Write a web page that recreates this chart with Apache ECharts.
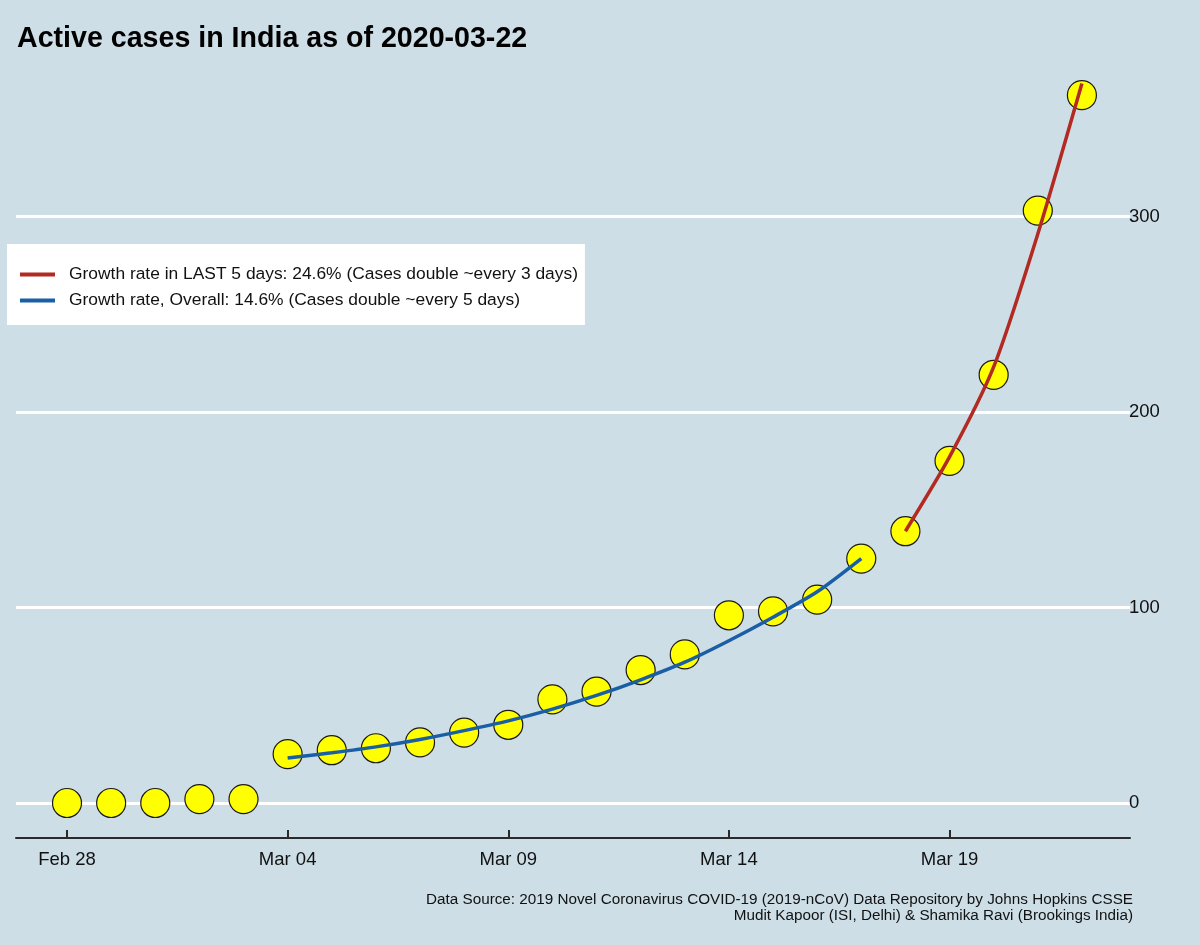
<!DOCTYPE html>
<html>
<head>
<meta charset="utf-8">
<script src="https://cdn.jsdelivr.net/npm/echarts@6/dist/echarts.min.js"></script>
<style>
  html, body { margin: 0; padding: 0; background: #cddee6; }
  #chart { width: 1200px; height: 945px; }
</style>
</head>
<body>
<div id="chart"></div>
<script>
// days from Feb 28 to Mar 22
const dayLabels = ['Feb 28', 'Feb 29', 'Mar 01', 'Mar 02', 'Mar 03', 'Mar 04', 'Mar 05', 'Mar 06',
  'Mar 07', 'Mar 08', 'Mar 09', 'Mar 10', 'Mar 11', 'Mar 12', 'Mar 13', 'Mar 14', 'Mar 15',
  'Mar 16', 'Mar 17', 'Mar 18', 'Mar 19', 'Mar 20', 'Mar 21', 'Mar 22'];
const activeCases = [0, 0, 0, 2, 2, 25, 27, 28, 31, 36, 40, 53, 57, 68, 76, 96, 98, 104, 125, 139, 175, 219, 303, 362];

// fitted curves
const overallStart = 5; // Mar 04
const overallFit = [23, 25.7, 28.7, 32.5, 37, 42, 48, 55, 63, 72, 83, 95, 108, 125];
const lastStart = 19; // Mar 18
const lastFit = [139, 177, 223, 291, 368];

const xTicks = [0, 5, 10, 15, 20];
const yTicks = [0, 100, 200, 300];

const legendLast = 'Growth rate in LAST 5 days: 24.6% (Cases double ~every 3 days)';
const legendOverall = 'Growth rate, Overall: 14.6% (Cases double ~every 5 days)';
const titleText = 'Active cases in India as of 2020-03-22';
const captionLines = [
  'Data Source: 2019 Novel Coronavirus COVID-19 (2019-nCoV) Data Repository by Johns Hopkins CSSE',
  'Mudit Kapoor (ISI, Delhi) & Shamika Ravi (Brookings India)'
];

const font = 'Liberation Sans, Arial, sans-serif';

const pairs = (start, vals) => vals.map((v, i) => [start + i, v]);

const chart = echarts.init(document.getElementById('chart'));
chart.setOption({
  backgroundColor: '#cddee6',
  animation: false,
  textStyle: { fontFamily: font },
  title: {
    text: titleText,
    left: 12,
    top: 20,
    textStyle: { fontSize: 28.6, fontWeight: 'bold', color: '#000', fontFamily: font }
  },
  legend: {
    orient: 'vertical',
    left: 7,
    top: 244,
    backgroundColor: '#ffffff',
    padding: [22, 7, 16, 13],
    itemGap: 9,
    itemWidth: 35,
    itemHeight: 4,
    icon: 'rect',
    textStyle: { fontSize: 17.4, color: '#111', padding: [0, 0, 0, 9], fontFamily: font },
    data: [legendLast, legendOverall]
  },
  grid: { left: 16, right: 70, top: 60, bottom: 107 },
  xAxis: {
    type: 'value',
    min: -1.156,
    max: 24.09,
    splitLine: { show: false },
    axisLine: { show: true, onZero: false, lineStyle: { color: '#2a2a2a', width: 2 } },
    axisTick: { show: true, inside: true, length: 8, customValues: xTicks, lineStyle: { color: '#2a2a2a', width: 2 } },
    axisLabel: {
      customValues: xTicks,
      margin: 12,
      fontSize: 18.5,
      color: '#111',
      formatter: v => dayLabels[v]
    }
  },
  yAxis: {
    type: 'value',
    position: 'right',
    min: -17.9,
    max: 380,
    axisLine: { show: false },
    axisTick: { show: false, customValues: yTicks },
    axisLabel: { customValues: yTicks, margin: -1, fontSize: 18.5, color: '#111' },
    splitLine: { show: true, lineStyle: { color: '#ffffff', width: 3 } }
  },
  series: [
    {
      name: 'Active cases',
      type: 'scatter',
      z: 2,
      symbolSize: 29,
      itemStyle: { color: '#ffff00', borderColor: '#1a1a1a', borderWidth: 1.2, opacity: 1 },
      data: activeCases.map((v, i) => [i, v])
    },
    {
      name: legendLast,
      type: 'line',
      z: 3,
      smooth: 0.25,
      symbol: 'none',
      color: '#b22a21',
      lineStyle: { color: '#b22a21', width: 3.5 },
      data: pairs(lastStart, lastFit)
    },
    {
      name: legendOverall,
      type: 'line',
      z: 3,
      smooth: 0.25,
      symbol: 'none',
      color: '#1a5ea6',
      lineStyle: { color: '#1a5ea6', width: 3.5 },
      data: pairs(overallStart, overallFit)
    }
  ],
  graphic: captionLines.map((t, i) => ({
    type: 'text',
    right: 67,
    top: 892 + i * 16,
    style: { text: t, font: '15.25px ' + font, fill: '#111', textAlign: 'right' }
  }))
});
</script>
</body>
</html>
